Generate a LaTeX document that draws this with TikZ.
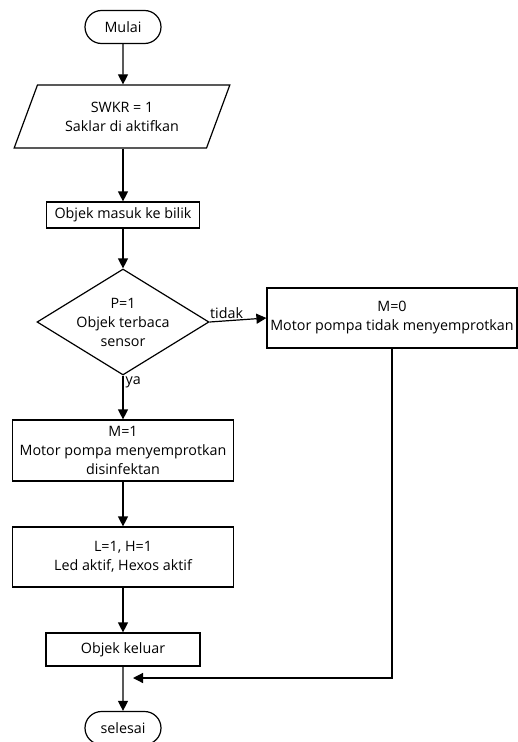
\documentclass[tikz,border=0pt]{standalone}
\usepackage{fontspec}
\setmainfont{Open Sans}
\usetikzlibrary{arrows.meta,shapes.geometric,shapes.misc}
\tikzset{
  terminal/.style={draw, rounded rectangle, minimum width=80pt, minimum height=33pt, inner sep=2pt},
  inout/.style={draw, trapezium, trapezium left angle=62, trapezium right angle=118,
    trapezium stretches=true, minimum width=216pt, minimum height=63pt, inner sep=0pt, align=center},
  process/.style={draw, rectangle, inner sep=0pt, align=center},
  decision/.style={draw, diamond, minimum width=172pt, minimum height=106pt, inner sep=0pt},
  flow/.style={-{Triangle[length=10pt,width=10pt]}},
  lbl/.style={inner sep=2pt},
}
\begin{document}
\begin{tikzpicture}[x=1pt, y=-1pt, line width=1.2pt, font=\fontsize{14.3}{19}\selectfont]
  \useasboundingbox (0,0) rectangle (518,742);
  % start and input
  \node[terminal] (mulai) at (123,27) {Mulai};
  \node[inout] (saklar) at (122,116.5) {SWKR = 1\\Saklar di aktifkan};
  \node[process, minimum width=153pt, minimum height=26pt] (masuk) at (123,215) {Objek masuk ke bilik};
  % check sensor
  \node[decision, label={[align=center]center:P=1\\Objek terbaca\\sensor}] (sensor) at (123,322) {};
  \node[process, minimum width=250pt, minimum height=60pt] (mati) at (392,318) {M=0\\Motor pompa tidak menyemprotkan};
  \node[process, minimum width=221pt, minimum height=61pt] (pompa) at (123,450.5) {M=1\\Motor pompa menyemprotkan\\disinfektan};
  \node[process, minimum width=221pt, minimum height=60pt] (led) at (123,557) {L=1, H=1\\Led aktif, Hexos aktif};
  \node[process, minimum width=154pt, minimum height=33pt] (keluar) at (123,649.5) {Objek keluar};
  \node[terminal] (selesai) at (123,728) {selesai};
  \coordinate (gabung) at (133,678);
  % arrows
  \draw[flow] (mulai) -- (saklar.north -| mulai);
  \draw[flow] (saklar.south -| masuk) -- (masuk);
  \draw[flow] (masuk) -- (sensor);
  \draw[flow] (sensor.east) -- node[lbl, above, pos=0.3] {tidak} (mati.west);
  \draw[flow] (sensor.south) -- node[lbl, right, pos=0.15] {ya} (pompa.north);
  \draw[flow] (pompa) -- (led);
  \draw[flow] (led) -- (keluar);
  \draw[flow] (keluar) -- (selesai);
  \draw[flow] (mati.south) |- (gabung);
\end{tikzpicture}
\end{document}
